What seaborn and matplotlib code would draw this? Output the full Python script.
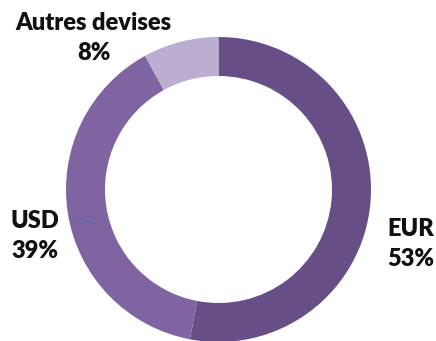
import matplotlib
matplotlib.use("Agg")
import matplotlib.pyplot as plt
import seaborn as sns

sns.set_theme(style="white")
plt.rcParams["font.family"] = ["Lato", "DejaVu Sans"]

# Currency split of the portfolio
currencies = ["EUR", "USD", "Autres devises"]
shares = [53, 39, 8]
colors = ["#684e87", "#8064a2", "#bbaed0"]

W, H = 436, 341
fig = plt.figure(figsize=(W / 100, H / 100), dpi=100)
ax = fig.add_axes([0, 0, 1, 1])

cx, cy, r_out = 218.5, H - 189.5, 152.5
ax.pie(shares, colors=colors, startangle=90, counterclock=False,
       center=(cx, cy), radius=r_out,
       wedgeprops=dict(width=39, edgecolor="none"))

# pie() resets the limits, so fix the pixel frame afterwards
ax.set_xlim(0, W)
ax.set_ylim(0, H)
ax.set_aspect("equal")
ax.axis("off")

# small leader tick inside the USD segment
ax.plot([79, 95], [H - 218, H - 224], color="#4f6fae", lw=1)

labels = {
    "EUR": (410.5, 244),
    "USD": (35, 236),
    "Autres devises": (93.5, 38),
}
for name, val in zip(currencies, shares):
    x, y = labels[name]
    ax.text(x, H - y, f"{name}\n{val}%", ha="center", va="center",
            fontsize=17, fontweight="heavy", color="#111111",
            linespacing=1.5)

fig.savefig("out.png", dpi=100)
